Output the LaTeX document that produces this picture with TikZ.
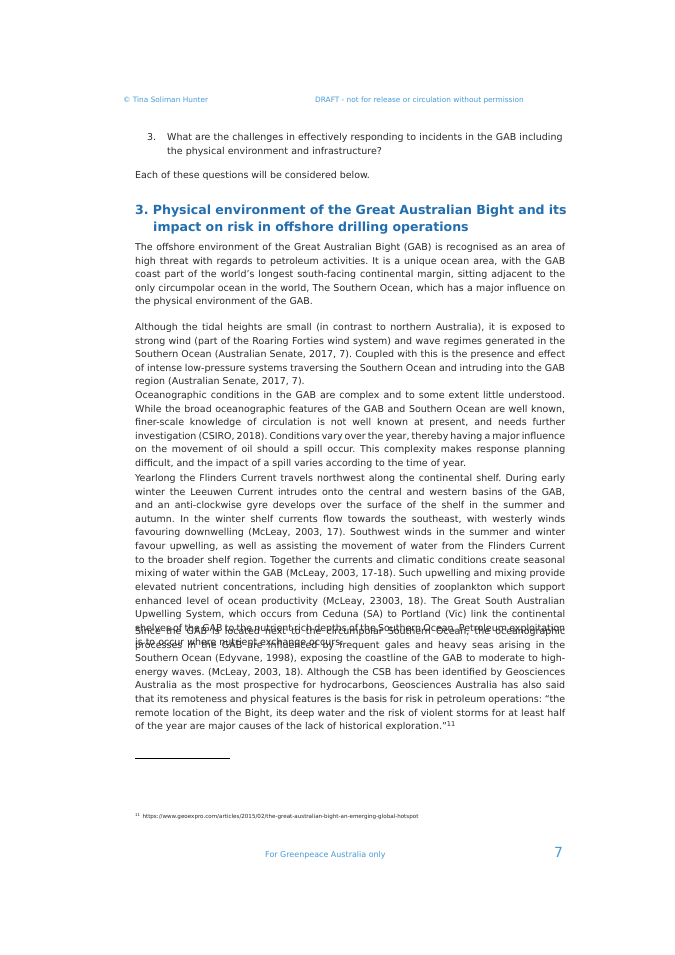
\documentclass[tikz,border=0pt]{standalone}
\usepackage{fontspec}
\setmainfont{DejaVu Sans}
\usetikzlibrary{positioning}
\definecolor{hdrblue}{RGB}{70,155,215}
\definecolor{headblue}{RGB}{35,110,175}
\definecolor{ink}{RGB}{40,40,40}
\hyphenpenalty=10000
\frenchspacing
\tikzset{
  body/.style={anchor=north west, inner sep=0pt, text=ink, text width=430bp, align=justify, font=\fontsize{9.5}{13.7}\selectfont},
  hdr/.style={anchor=north west, inner sep=0pt, text=hdrblue, font=\fontsize{7.4}{10}\selectfont}
}
\begin{document}
\begin{tikzpicture}[x=1bp, y=-1bp]
\useasboundingbox[fill=white] (0,0) rectangle (675,955);
\node[hdr] (author) at (123,97) {\textcopyright\ Tina Soliman Hunter};
\node[hdr] (draft) at (315,97) {DRAFT - not for release or circulation without permission};

\node[body, text width=18bp] (num) at (147,133) {3.};
\node[body, text width=400bp, align=left] (item) at (167,133) {What are the challenges in effectively responding to incidents in the GAB including the physical environment and infrastructure?};
\node[body] (each) at (135,171) {Each of these questions will be considered below.};

\node[body, text=headblue, text width=440bp, align=left, font=\bfseries\fontsize{12.6}{17}\selectfont] (heading) at (135,205)
  {3. Physical environment of the Great Australian Bight and its\\\hspace*{18bp}impact on risk in offshore drilling operations};

\node[body] (para1) at (135,243) {The offshore environment of the Great Australian Bight (GAB) is recognised as an area of high threat with regards to petroleum activities. It is a unique ocean area, with the GAB coast part of the world's longest south-facing continental margin, sitting adjacent to the only circumpolar ocean in the world, The Southern Ocean, which has a major influence on the physical environment of the GAB.};
\node[body] (para2) at (135,323) {Although the tidal heights are small (in contrast to northern Australia), it is exposed to strong wind (part of the Roaring Forties wind system) and wave regimes generated in the Southern Ocean (Australian Senate, 2017, 7). Coupled with this is the presence and effect of intense low-pressure systems traversing the Southern Ocean and intruding into the GAB region (Australian Senate, 2017, 7).};
\node[body] (para3) at (135,391) {Oceanographic conditions in the GAB are complex and to some extent little understood. While the broad oceanographic features of the GAB and Southern Ocean are well known, finer-scale knowledge of circulation is not well known at present, and needs further investigation (CSIRO, 2018). Conditions vary over the year, thereby having a major influence on the movement of oil should a spill occur. This complexity makes response planning difficult, and the impact of a spill varies according to the time of year.};
\node[body] (para4) at (135,474) {Yearlong the Flinders Current travels northwest along the continental shelf. During early winter the Leeuwen Current intrudes onto the central and western basins of the GAB, and an anti-clockwise gyre develops over the surface of the shelf in the summer and autumn. In the winter shelf currents flow towards the southeast, with westerly winds favouring downwelling (McLeay, 2003, 17). Southwest winds in the summer and winter favour upwelling, as well as assisting the movement of water from the Flinders Current to the broader shelf region. Together the currents and climatic conditions create seasonal mixing of water within the GAB (McLeay, 2003, 17-18). Such upwelling and mixing provide elevated nutrient concentrations, including high densities of zooplankton which support enhanced level of ocean productivity (McLeay, 23003, 18). The Great South Australian Upwelling System, which occurs from Ceduna (SA) to Portland (Vic) link the continental shelves of the GAB to the nutrient rich depths of the Southern Ocean. Petroleum exploitation is to occur where nutrient exchange occurs.};
\node[body] (para5) at (135,627) {Since the GAB is located next to the circumpolar Southern Ocean, the oceanographic processes in the GAB are influenced by frequent gales and heavy seas arising in the Southern Ocean (Edyvane, 1998), exposing the coastline of the GAB to moderate to high-energy waves. (McLeay, 2003, 18). Although the CSB has been identified by Geosciences Australia as the most prospective for hydrocarbons, Geosciences Australia has also said that its remoteness and physical features is the basis for risk in petroleum operations: ``the remote location of the Bight, its deep water and the risk of violent storms for at least half of the year are major causes of the lack of historical exploration.''\textsuperscript{11}};

\draw[line width=0.5bp] (135,758) coordinate (rulestart) -- (230,758) coordinate (ruleend);
\node[body, text width=440bp, align=left, font=\fontsize{5.6}{8}\selectfont] (foot) at (135,813) {\textsuperscript{11} https://www.geoexpro.com/articles/2015/02/the-great-australian-bight-an-emerging-global-hotspot};

\node[hdr, font=\fontsize{8}{10}\selectfont] (footer) at (265,851) {For Greenpeace Australia only};
\node[hdr, font=\fontsize{14}{16}\selectfont] (page) at (554,847) {7};
\end{tikzpicture}
\end{document}
